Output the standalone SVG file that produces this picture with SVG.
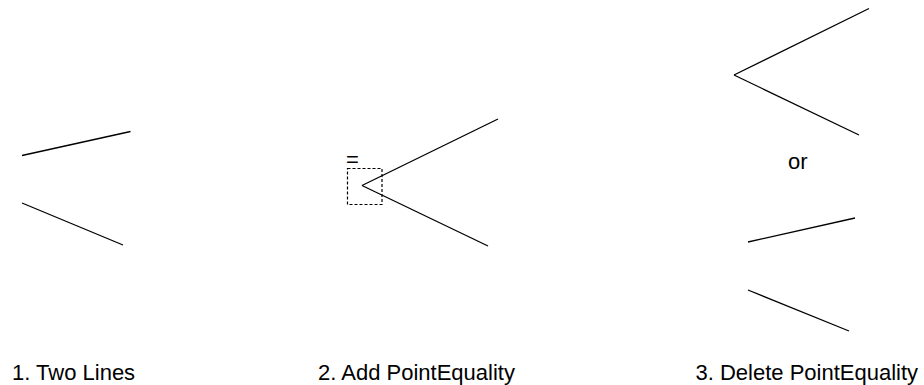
<svg xmlns="http://www.w3.org/2000/svg" width="924" height="385" viewBox="0 0 924 385">
<style>
line{stroke:#000;stroke-width:1.3;fill:none}
text{font-family:"Liberation Sans",Arial,sans-serif;font-size:22px;fill:#000}
.box{fill:none;stroke:#000;stroke-width:1.2;stroke-dasharray:3,2}
</style>
<rect width="924" height="385" fill="#fff"/>
<g id="step1">
<line x1="22" y1="155.5" x2="130.5" y2="131.5"/>
<line x1="22" y1="203" x2="123" y2="245"/>
<text x="12" y="380">1. Two Lines</text>
</g>
<g id="step2">
<line x1="362" y1="185.5" x2="498" y2="119"/>
<line x1="362" y1="185.5" x2="488" y2="246"/>
<rect class="box" x="347.5" y="168.5" width="34.5" height="36"/>
<text x="346" y="167">=</text>
<text x="318" y="380">2. Add PointEquality</text>
</g>
<g id="step3">
<line x1="734" y1="75" x2="869" y2="8.5"/>
<line x1="734" y1="75" x2="859" y2="135"/>
<text x="788" y="169">or</text>
<line x1="748" y1="242" x2="855" y2="218"/>
<line x1="748" y1="290" x2="849" y2="331"/>
<text x="695.5" y="380">3. Delete PointEquality</text>
</g>
</svg>
